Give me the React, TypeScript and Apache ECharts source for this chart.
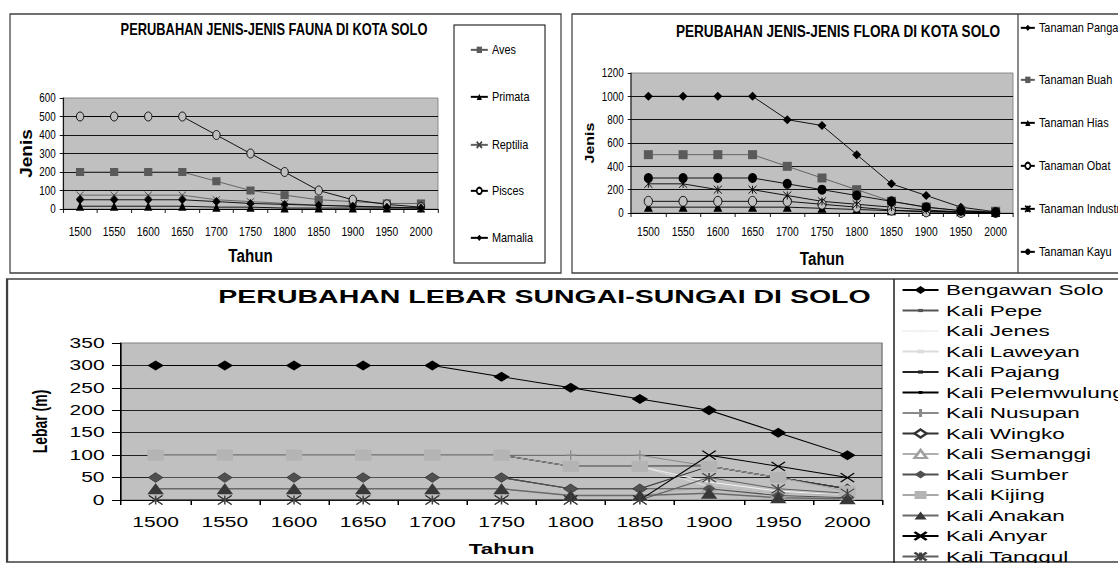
import React, { useEffect, useRef } from 'react';
import * as echarts from 'echarts';

// ---------------- DATA ----------------
const years = ['1500', '1550', '1600', '1650', '1700', '1750', '1800', '1850', '1900', '1950', '2000'];

const faunaTitle = 'PERUBAHAN JENIS-JENIS FAUNA DI KOTA SOLO';
const faunaNames = ['Aves', 'Primata', 'Reptilia', 'Pisces', 'Mamalia'];
const aves = [200, 200, 200, 200, 150, 100, 75, 50, 40, 30, 30];
const primata = [15, 15, 15, 15, 10, 10, 5, 5, 5, 5, 5];
const reptilia = [75, 75, 75, 75, 50, 40, 30, 20, 15, 10, 5];
const pisces = [500, 500, 500, 500, 400, 300, 200, 100, 50, 25, 10];
const mamalia = [50, 50, 50, 50, 40, 30, 25, 20, 15, 10, 5];
const faunaTicks = [0, 100, 200, 300, 400, 500, 600];

const floraTitle = 'PERUBAHAN JENIS-JENIS FLORA DI KOTA SOLO';
const floraNames = ['Tanaman Pangan', 'Tanaman Buah', 'Tanaman Hias', 'Tanaman Obat', 'Tanaman Industri', 'Tanaman Kayu'];
const tanamanPangan = [1000, 1000, 1000, 1000, 800, 750, 500, 250, 150, 50, 10];
const tanamanBuah = [500, 500, 500, 500, 400, 300, 200, 100, 50, 20, 15];
const tanamanHias = [50, 50, 50, 50, 50, 40, 30, 20, 15, 10, 5];
const tanamanObat = [100, 100, 100, 100, 100, 75, 50, 25, 10, 5, 5];
const tanamanIndustri = [250, 250, 200, 200, 150, 100, 75, 50, 25, 10, 5];
const tanamanKayu = [300, 300, 300, 300, 250, 200, 150, 100, 50, 20, 5];
const floraTicks = [0, 200, 400, 600, 800, 1000, 1200];

const sungaiTitle = 'PERUBAHAN LEBAR SUNGAI-SUNGAI DI SOLO';
const sungaiNames = [
  'Bengawan Solo', 'Kali Pepe', 'Kali Jenes', 'Kali Laweyan', 'Kali Pajang', 'Kali Pelemwulung',
  'Kali Nusupan', 'Kali Wingko', 'Kali Semanggi', 'Kali Sumber', 'Kali Kijing', 'Kali Anakan',
  'Kali Anyar', 'Kali Tanggul',
];
const bengawanSolo = [300, 300, 300, 300, 300, 275, 250, 225, 200, 150, 100];
const kaliPepe = [100, 100, 100, 100, 100, 100, 75, 75, 75, 50, 25];
const kaliJenes = [100, 100, 100, 100, 100, 100, 75, 75, 40, 20, 10];
const kaliLaweyan = [100, 100, 100, 100, 100, 100, 75, 75, 30, 15, 10];
const kaliPajang = [100, 100, 100, 100, 100, 100, 75, 75, 75, 50, 25];
const kaliPelemwulung = [100, 100, 100, 100, 100, 100, 75, 75, 75, 50, 25];
const kaliNusupan = [100, 100, 100, 100, 100, 100, 100, 100, 75, 50, 25];
const kaliWingko = [50, 50, 50, 50, 50, 50, 25, 25, 75, 50, 25];
const kaliSemanggi = [25, 25, 25, 25, 25, 25, 10, 10, 30, 15, 10];
const kaliSumber = [50, 50, 50, 50, 50, 50, 25, 25, 25, 10, 5];
const kaliKijing = [100, 100, 100, 100, 100, 100, 75, 75, 75, 50, 20];
const kaliAnakan = [25, 25, 25, 25, 25, 25, 10, 10, 15, 5, 3];
const kaliAnyar = [0, 0, 0, 0, 0, 0, 0, 0, 100, 75, 50];
const kaliTanggul = [0, 0, 0, 0, 0, 0, 0, 0, 50, 25, 15];
const sungaiTicks = [0, 50, 100, 150, 200, 250, 300, 350];

// ---------------- STYLE ----------------
const SANS = "'Liberation Sans',Arial,sans-serif";
const X_SYM = 'path://M0,0L10,10M10,0L0,10';
const STAR_SYM = 'path://M5,0L5,10M0,0L10,10M10,0L0,10';
const PLUS_SYM = 'path://M5,0L5,10M0,5L10,5';
const KT = 0.82; // horizontal squeeze of the upper panels
const SX = 1.5; // horizontal stretch of the lower panel
const TOP_W = 1364;
const BOT_W = 790;
const v = (px: number) => px / KT; // page x -> upper chart x

type Sty = {
  symbol: string; size: number | number[]; color: string; line: string;
  border?: string; bw?: number; lw?: number; legendH?: number; legendFill?: string;
};

const faunaStyles: Sty[] = [
  { symbol: 'rect', size: [10, 8], color: '#5a5a5a', line: '#5a5a5a' },
  { symbol: 'triangle', size: [10, 9], color: '#000', line: '#000' },
  { symbol: X_SYM, size: [9, 7], color: '#404040', line: '#606060', border: '#404040', bw: 1 },
  { symbol: 'circle', size: [9, 9], color: '#c0c0c0', line: '#000', border: '#000', bw: 1, legendFill: '#fff' },
  { symbol: 'diamond', size: [10, 9], color: '#000', line: '#000' },
];
const floraStyles: Sty[] = [
  { symbol: 'diamond', size: [11, 9], color: '#000', line: '#000' },
  { symbol: 'rect', size: [11, 9], color: '#5a5a5a', line: '#5a5a5a' },
  { symbol: 'triangle', size: [11, 9], color: '#000', line: '#000' },
  { symbol: 'circle', size: [10, 10], color: '#c0c0c0', line: '#000', border: '#000', bw: 1, legendFill: '#fff' },
  { symbol: STAR_SYM, size: [10, 8], color: '#000', line: '#000', border: '#000', bw: 1 },
  { symbol: 'circle', size: [11, 10], color: '#000', line: '#000' },
];
const sungaiStyles: Sty[] = [
  { symbol: 'diamond', size: [11, 10], color: '#000', line: '#000', legendH: 10 },
  { symbol: 'rect', size: 3, color: '#555', line: '#555', legendH: 4 },
  { symbol: 'triangle', size: 3, color: '#f2f2f2', line: '#f2f2f2', legendH: 4 },
  { symbol: X_SYM, size: 3, color: '#dcdcdc', line: '#dcdcdc', border: '#dcdcdc', bw: 1, legendH: 4 },
  { symbol: 'rect', size: 3, color: '#222', line: '#222', legendH: 4 },
  { symbol: 'circle', size: 3, color: '#000', line: '#000', legendH: 4 },
  { symbol: PLUS_SYM, size: [7, 10], color: '#8a8a8a', line: '#8a8a8a', border: '#8a8a8a', bw: 1, legendH: 10 },
  { symbol: 'diamond', size: 9, color: '#d0d0d0', line: '#333', border: '#333', bw: 1, legendH: 10, legendFill: '#fff' },
  { symbol: 'triangle', size: 9, color: '#e6e6e6', line: '#b0b0b0', border: '#a0a0a0', bw: 1, legendH: 10, legendFill: '#fff' },
  { symbol: 'diamond', size: 9, color: '#505050', line: '#505050', legendH: 10 },
  { symbol: 'rect', size: 11, color: '#b4b4b4', line: '#a8a8a8', legendH: 10 },
  { symbol: 'triangle', size: 11, color: '#383838', line: '#6a6a6a', lw: 1.5, legendH: 10 },
  { symbol: X_SYM, size: 9, color: '#000', line: '#000', border: '#000', bw: 1, legendH: 10 },
  { symbol: STAR_SYM, size: 9, color: '#404040', line: '#606060', border: '#404040', bw: 1, legendH: 10 },
];

function mkSeries(name: string, data: number[], st: Sty, axis: number) {
  return {
    type: 'line', name, data, xAxisIndex: axis, yAxisIndex: axis,
    symbol: st.symbol, symbolSize: st.size, showSymbol: true,
    itemStyle: { color: st.color, borderColor: st.border || st.color, borderWidth: st.bw || 0 },
    lineStyle: { color: st.line, width: st.lw || 1 },
    emphasis: { disabled: true },
    animation: false,
  };
}

function mkLegends(names: string[], sts: Sty[], left: number, centers: number[], w: number, h: number, family: string, font: number) {
  return names.map((n, i) => ({
    data: [sts[i].legendFill ? { name: n, itemStyle: { color: sts[i].legendFill } } : n],
    left, top: centers[i] - font / 2,
    orient: 'horizontal', padding: 0, itemGap: 0,
    itemWidth: w, itemHeight: sts[i].legendH || h,
    selectedMode: false,
    textStyle: { fontFamily: family, fontSize: font, color: '#000' },
  }));
}

function mkX(gi: number, o: any) {
  return {
    type: 'category', gridIndex: gi, data: years, boundaryGap: true,
    axisLine: { show: true, lineStyle: { color: '#000', width: 1 } },
    axisTick: { show: true, length: o.tick, interval: 0, lineStyle: { color: '#000' } },
    axisLabel: { interval: 0, margin: o.margin, color: '#000', fontFamily: o.family, fontSize: o.font },
    splitLine: { show: false },
    name: 'Tahun', nameLocation: 'middle', nameGap: o.nameGap,
    nameTextStyle: { color: '#000', fontFamily: o.nameFamily, fontSize: o.nameFont, fontWeight: 'bold' },
  };
}

function mkY(gi: number, ticks: number[], name: string, o: any) {
  return {
    type: 'value', gridIndex: gi, min: ticks[0], max: ticks[ticks.length - 1], interval: ticks[1] - ticks[0],
    axisLine: { show: true, lineStyle: { color: '#000', width: 1 } },
    axisTick: { show: true, length: o.tick, lineStyle: { color: '#000' } },
    axisLabel: { margin: o.margin, color: '#000', fontFamily: o.family, fontSize: o.font, formatter: (val: number) => String(val) },
    splitLine: { show: true, showMaxLine: false, lineStyle: { color: o.split, width: 1 } },
    name, nameLocation: 'middle', nameRotate: 90, nameGap: o.nameGap,
    nameTextStyle: { color: '#000', fontFamily: o.nameFamily, fontSize: o.nameFont, fontWeight: 'bold' },
  };
}

const gridBase = { show: true, backgroundColor: '#c0c0c0', borderColor: '#808080', borderWidth: 1, containLabel: false };

function topOption() {
  const faunaData = [aves, primata, reptilia, pisces, mamalia];
  const floraData = [tanamanPangan, tanamanBuah, tanamanHias, tanamanObat, tanamanIndustri, tanamanKayu];
  return {
    animation: false,
    backgroundColor: '#fff',
    title: [
      { text: faunaTitle, left: v(274), top: 22, textAlign: 'center', textVerticalAlign: 'top', padding: 0,
        textStyle: { fontFamily: SANS, fontWeight: 'bold', fontSize: 15.7, color: '#000' } },
      { text: floraTitle, left: v(838), top: 22, textAlign: 'center', textVerticalAlign: 'top', padding: 0,
        textStyle: { fontFamily: SANS, fontWeight: 'bold', fontSize: 16.6, color: '#000' } },
    ],
    grid: [
      { ...gridBase, left: v(63), top: 98, width: v(375), height: 111 },
      { ...gridBase, left: v(631), top: 73, width: v(382), height: 140 },
    ],
    xAxis: [
      mkX(0, { tick: 4, margin: 16, family: SANS, font: 12.5, nameGap: 37, nameFamily: SANS, nameFont: 18.5 }),
      mkX(1, { tick: 4, margin: 12, family: SANS, font: 12.5, nameGap: 36, nameFamily: SANS, nameFont: 18.5 }),
    ],
    yAxis: [
      mkY(0, faunaTicks, 'Jenis', { tick: 4, margin: 9, family: SANS, font: 12, split: '#000', nameGap: v(29), nameFamily: SANS, nameFont: 19 }),
      mkY(1, floraTicks, 'Jenis', { tick: 4, margin: 9, family: SANS, font: 12, split: '#000', nameGap: v(35), nameFamily: SANS, nameFont: 16 }),
    ],
    legend: [
      ...mkLegends(faunaNames, faunaStyles, v(470), [50, 97, 145, 191, 238], v(17), 8, SANS, 13.3),
      ...mkLegends(floraNames, floraStyles, v(1020), [28, 80, 123, 166, 209, 252], v(14), 8, SANS, 13.3),
    ],
    graphic: [
      { type: 'rect', shape: { x: v(10), y: 14, width: v(551), height: 259 }, style: { fill: 'none', stroke: '#404040', lineWidth: 1.5 }, silent: true },
      { type: 'rect', shape: { x: v(454), y: 25, width: v(91), height: 238 }, style: { fill: 'none', stroke: '#000', lineWidth: 1.2 }, silent: true },
      { type: 'rect', shape: { x: v(572), y: 14, width: v(600), height: 259 }, style: { fill: 'none', stroke: '#404040', lineWidth: 1.5 }, silent: true },
      { type: 'line', shape: { x1: v(1018), y1: 14, x2: v(1018), y2: 273 }, style: { stroke: '#404040', lineWidth: 1.5 }, silent: true },
    ],
    series: [
      ...faunaNames.map((n, i) => mkSeries(n, faunaData[i], faunaStyles[i], 0)),
      ...floraNames.map((n, i) => mkSeries(n, floraData[i], floraStyles[i], 1)),
    ],
  };
}

function bottomOption() {
  const sungaiData = [
    bengawanSolo, kaliPepe, kaliJenes, kaliLaweyan, kaliPajang, kaliPelemwulung, kaliNusupan,
    kaliWingko, kaliSemanggi, kaliSumber, kaliKijing, kaliAnakan, kaliAnyar, kaliTanggul,
  ];
  const centers = sungaiNames.map((_, i) => 15 + i * 20.5);
  return {
    animation: false,
    backgroundColor: '#fff',
    title: [
      { text: sungaiTitle, left: 363, top: 12, textAlign: 'center', textVerticalAlign: 'top', padding: 0,
        textStyle: { fontFamily: SANS, fontWeight: 'bold', fontSize: 19, color: '#000' } },
    ],
    grid: [{ ...gridBase, left: 80.7, top: 68, width: 507.3, height: 157 }],
    xAxis: [mkX(0, { tick: 5, margin: 15, family: SANS, font: 14, nameGap: 41, nameFamily: SANS, nameFont: 15 })],
    yAxis: [mkY(0, sungaiTicks, 'Lebar (m)', { tick: 6, margin: 11, family: SANS, font: 14, split: '#222', nameGap: 47, nameFamily: SANS, nameFont: 14 })],
    legend: mkLegends(sungaiNames, sungaiStyles, 600.7, centers, 24, 10, SANS, 15),
    graphic: [
      { type: 'rect', shape: { x: 4.7, y: 4, width: 780, height: 283 }, style: { fill: 'none', stroke: '#404040', lineWidth: 1.5 }, silent: true },
      { type: 'line', shape: { x1: 596, y1: 4, x2: 596, y2: 288 }, style: { stroke: '#202020', lineWidth: 1 }, silent: true },
    ],
    series: sungaiNames.map((n, i) => mkSeries(n, sungaiData[i], sungaiStyles[i], 0)),
  };
}

export default function App() {
  const topRef = useRef<HTMLDivElement>(null);
  const botRef = useRef<HTMLDivElement>(null);
  useEffect(() => {
    document.body.style.margin = '0';
    const top = echarts.init(topRef.current as HTMLDivElement, undefined, { renderer: 'svg' });
    top.setOption(topOption() as any);
    const bot = echarts.init(botRef.current as HTMLDivElement, undefined, { renderer: 'svg' });
    bot.setOption(bottomOption() as any);
    return () => {
      top.dispose();
      bot.dispose();
    };
  }, []);
  return (
    <div style={{ position: 'relative', width: 1118, height: 563, overflow: 'hidden', background: '#fff' }}>
      <div
        ref={topRef}
        style={{
          position: 'absolute', left: 0, top: 0, width: TOP_W, height: 275,
          transform: `scaleX(${KT})`, transformOrigin: '0 0',
        }}
      />
      <div
        ref={botRef}
        style={{
          position: 'absolute', left: 0, top: 275, width: BOT_W, height: 288,
          transform: `scaleX(${SX})`, transformOrigin: '0 0',
        }}
      />
    </div>
  );
}
